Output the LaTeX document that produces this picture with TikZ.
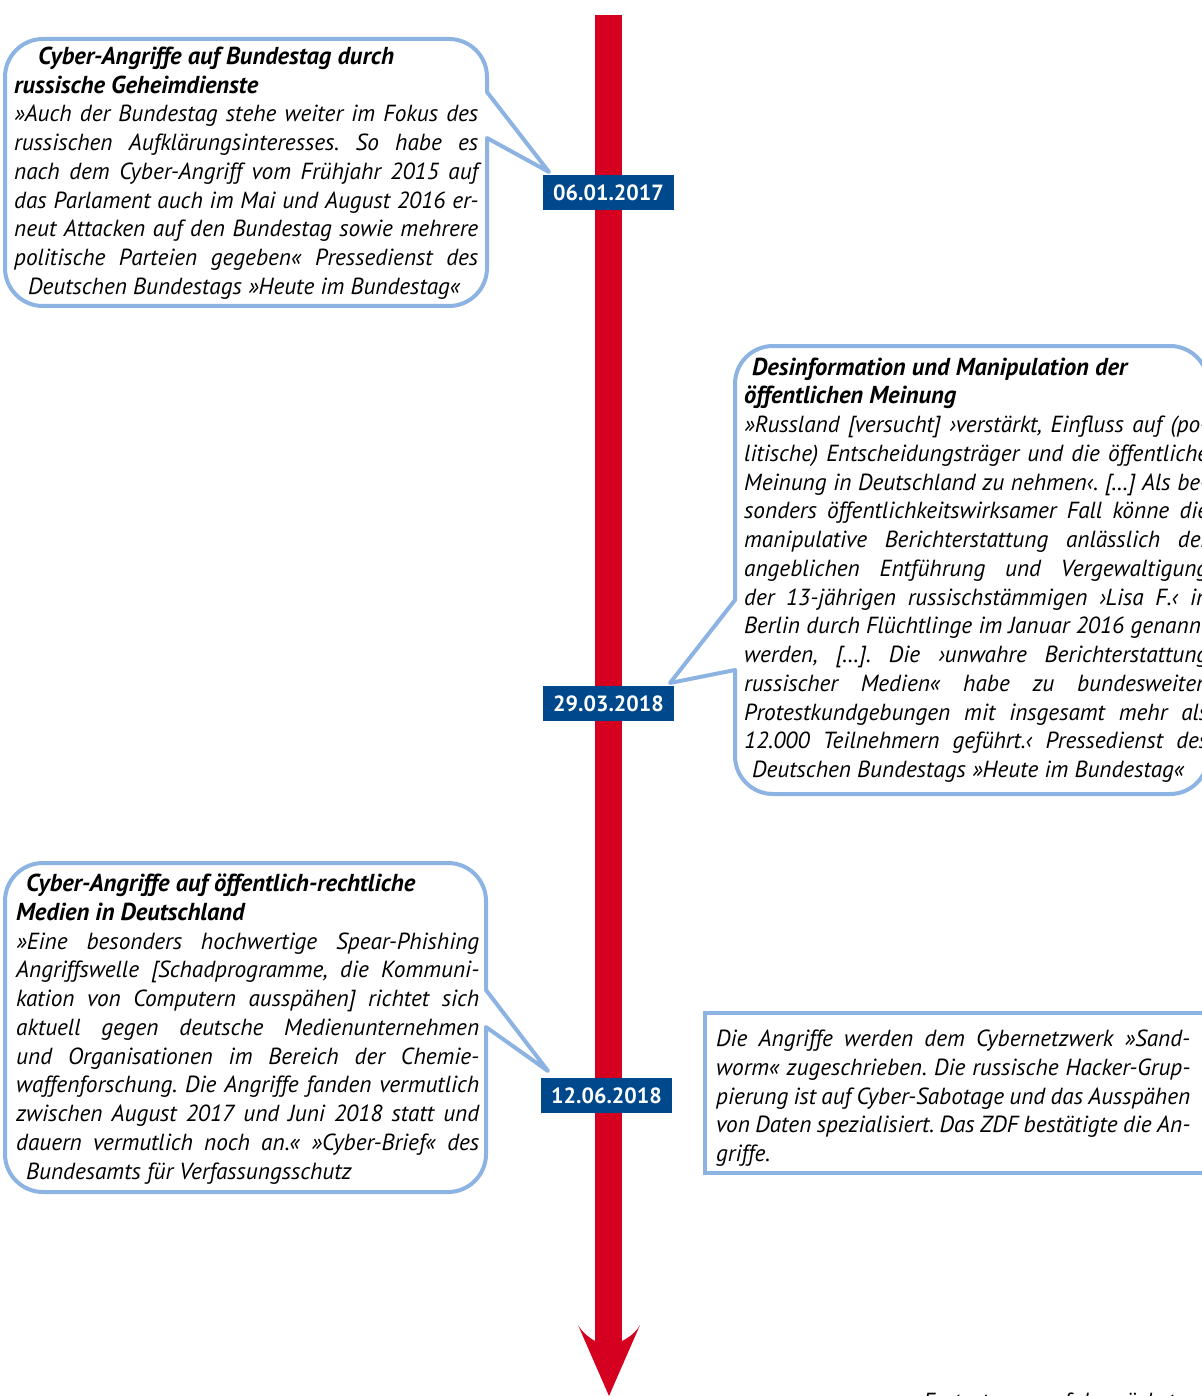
\documentclass[tikz,border=0pt]{standalone}
\usepackage{fontspec}
\setmainfont{PT Sans}
\definecolor{tlred}{RGB}{213,0,32}
\definecolor{bubblue}{RGB}{141,179,226}
\definecolor{dateblue}{RGB}{0,72,140}
\frenchspacing
\newcommand\jline[1]{\makebox[\linewidth][s]{#1}\par}
\newcommand\lline[1]{\makebox[\linewidth][l]{#1}\par}
\newcommand\bodyfont{\fontsize{23.3}{28.75}\selectfont}
\newcommand\ttl[1]{{\fontsize{24.5}{28.75}\selectfont\bfseries #1}}
\tikzset{
  bubble/.style={draw=bubblue, line width=4pt, fill=white, line join=round},
  datebox/.style={fill=dateblue, text=white, font=\bfseries\fontsize{22}{22}\selectfont, minimum width=131pt, minimum height=35pt, inner sep=0pt},
  txt/.style={anchor=base west, inner sep=0pt, font=\bodyfont\itshape}
}
\begin{document}
\begin{tikzpicture}[x=1pt,y=-1pt]
\useasboundingbox (0,0) rectangle (1201,1396);
% timeline
\coordinate (tltop) at (608.5,15);
\coordinate (tlend) at (608.5,1342);
\draw[tlred, line width=27pt] (tltop) -- (tlend);
\fill[tlred] (595,1341) .. controls (588,1337) and (582,1332) .. (578,1325) -- (609,1396) -- (640,1325) .. controls (636,1332) and (630,1337) .. (622,1341) -- cycle;
% bubble 1
\draw[bubble] (43,39) -- (449,39) .. controls (470,39) and (487,56) .. (487,77) -- (487,92) -- (549,172) -- (487,138) -- (487,268) .. controls (487,289) and (470,306) .. (449,306) -- (43,306) .. controls (22,306) and (5,289) .. (5,268) -- (5,77) .. controls (5,56) and (22,39) .. (43,39) -- cycle;
% bubble 2
\draw[bubble] (773,346) -- (1170,346) .. controls (1191,346) and (1208,363) .. (1208,384) -- (1208,756) .. controls (1208,777) and (1191,794) .. (1170,794) -- (773,794) .. controls (752,794) and (735,777) .. (735,756) -- (735,670) -- (670,683) -- (735,600) -- (735,384) .. controls (735,363) and (752,346) .. (773,346) -- cycle;
% bubble 3
\draw[bubble] (43,863) -- (448,863) .. controls (469,863) and (486,880) .. (486,901) -- (486,990) -- (548,1071) -- (486,1027) -- (486,1154) .. controls (486,1175) and (469,1192) .. (448,1192) -- (43,1192) .. controls (22,1192) and (5,1175) .. (5,1154) -- (5,901) .. controls (5,880) and (22,863) .. (43,863) -- cycle;
% box 4
\draw[bubble, line join=miter] (705,1013) rectangle (1215,1173);
% texts
\node[txt] (t1) at (14,64.3) {\parbox[t]{464pt}{\bodyfont
\lline{\hspace*{24pt}\ttl{Cyber-Angriffe auf Bundestag durch}}
\lline{\ttl{russische Geheimdienste}}
\jline{»Auch der Bundestag stehe weiter im Fokus des}
\jline{russischen Aufklärungsinteresses. So habe es}
\jline{nach dem Cyber-Angriff vom Frühjahr 2015 auf}
\jline{das Parlament auch im Mai und August 2016 er-}
\jline{neut Attacken auf den Bundestag sowie mehrere}
\jline{politische Parteien gegeben« Pressedienst des}
\lline{\hspace*{14pt}Deutschen Bundestags »Heute im Bundestag«}}};
\node[txt] (t2) at (744,375) {\parbox[t]{464pt}{\bodyfont
\lline{\hspace*{8pt}\ttl{Desinformation und Manipulation der}}
\lline{\ttl{öffentlichen Meinung}}
\jline{»Russland [versucht] ›verstärkt, Einfluss auf (po-}
\jline{litische) Entscheidungsträger und die öffentliche}
\jline{Meinung in Deutschland zu nehmen‹. [\ldots] Als be-}
\jline{sonders öffentlichkeitswirksamer Fall könne die}
\jline{manipulative Berichterstattung anlässlich der}
\jline{angeblichen Entführung und Vergewaltigung}
\jline{der 13-jährigen russischstämmigen ›Lisa F.‹ in}
\jline{Berlin durch Flüchtlinge im Januar 2016 genannt}
\jline{werden, [\ldots]. Die ›unwahre Berichterstattung}
\jline{russischer Medien« habe zu bundesweiten}
\jline{Protestkundgebungen mit insgesamt mehr als}
\jline{12.000 Teilnehmern geführt.‹ Pressedienst des}
\lline{\hspace*{8pt}Deutschen Bundestags »Heute im Bundestag«}}};
\node[txt] (t3) at (16,891.7) {\parbox[t]{463pt}{\bodyfont
\lline{\hspace*{10pt}\ttl{Cyber-Angriffe auf öffentlich-rechtliche}}
\lline{\ttl{Medien in Deutschland}}
\jline{»Eine besonders hochwertige Spear-Phishing}
\jline{Angriffswelle [Schadprogramme, die Kommuni-}
\jline{kation von Computern ausspähen] richtet sich}
\jline{aktuell gegen deutsche Medienunternehmen}
\jline{und Organisationen im Bereich der Chemie-}
\jline{waffenforschung. Die Angriffe fanden vermutlich}
\jline{zwischen August 2017 und Juni 2018 statt und}
\jline{dauern vermutlich noch an.« »Cyber-Brief« des}
\lline{\hspace*{10pt}Bundesamts für Verfassungsschutz}}};
\node[txt] (t4) at (716,1046.7) {\parbox[t]{474pt}{\bodyfont
\jline{Die Angriffe werden dem Cybernetzwerk »Sand-}
\jline{worm« zugeschrieben. Die russische Hacker-Grup-}
\jline{pierung ist auf Cyber-Sabotage und das Ausspähen}
\jline{von Daten spezialisiert. Das ZDF bestätigte die An-}
\lline{griffe.}}};
% dates
\node[datebox] (d1) at (608.5,192.5) {06.01.2017};
\node[datebox] (d2) at (608.5,703.5) {29.03.2018};
\node[datebox] (d3) at (606.5,1095.5) {12.06.2018};
% continuation note (cut by page edge)
\begin{scope}
\clip (0,0) rectangle (1201,1396);
\node[anchor=base west, inner sep=0pt, font=\bodyfont\itshape] (cont) at (923,1409) {Fortsetzung auf der nächsten Seite};
\end{scope}
\end{tikzpicture}
\end{document}
